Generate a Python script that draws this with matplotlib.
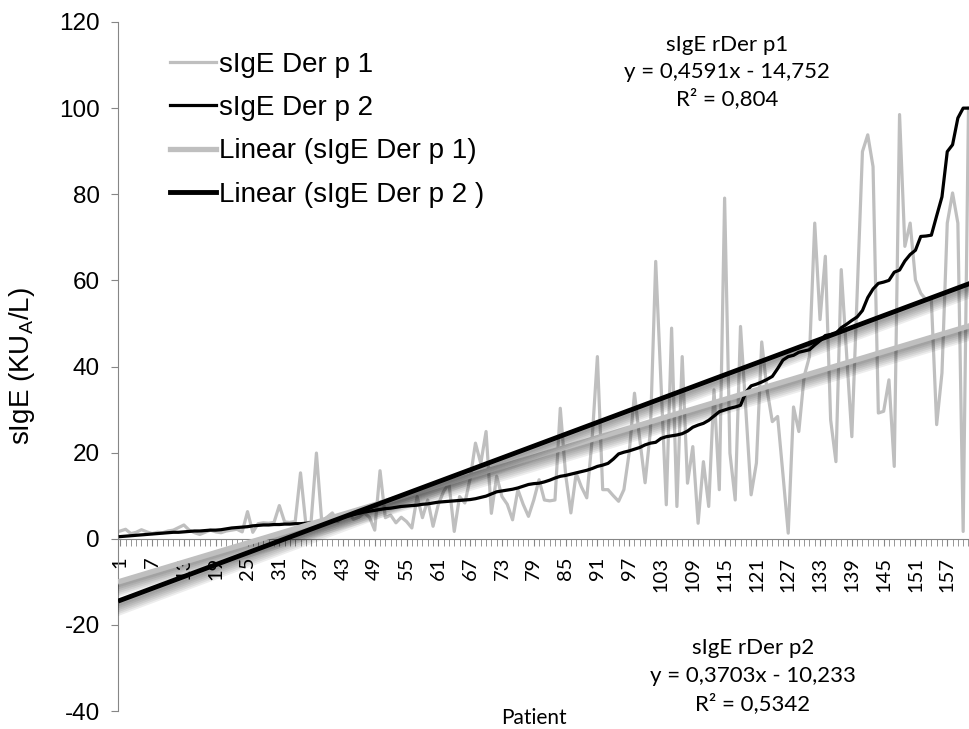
import matplotlib
matplotlib.use("Agg")
import matplotlib.pyplot as plt
import matplotlib.patheffects as pe
from matplotlib.lines import Line2D
import numpy as np

# patients 1..161
patients = np.arange(1, 162)

# sIgE Der p 1 (grey, unsorted)
der_p1 = [1.8, 2.2, 1.2, 1.5, 2.1, 1.6, 1.2, 1.5, 1.4, 1.8,
          2.0, 2.6, 3.2, 2.0, 1.4, 1.0, 1.5, 2.0, 1.6, 1.4,
          1.8, 2.0, 2.2, 1.6, 6.3, 1.5, 3.5, 3.7, 3.6, 3.8,
          7.7, 3.9, 3.8, 4.0, 15.3, 3.5, 4.0, 19.9, 4.0, 5.0,
          6.0, 4.0, 5.0, 6.0, 4.5, 5.0, 6.0, 5.0, 2.0, 15.8,
          4.9, 5.5, 3.7, 5.0, 4.0, 2.5, 9.8, 4.9, 9.0, 2.9,
          8.0, 11.0, 12.9, 1.7, 9.8, 8.3, 14.0, 22.2, 17.5, 24.9,
          5.9, 14.5, 9.8, 8.0, 4.4, 11.4, 8.0, 5.2, 9.0, 13.7,
          9.0, 8.8, 9.0, 30.3, 15.0, 6.0, 15.2, 12.0, 9.5, 23.0,
          42.3, 11.4, 11.4, 10.0, 8.7, 11.4, 20.0, 33.8, 23.0, 13.0,
          25.0, 64.4, 36.0, 7.9, 48.9, 7.5, 42.3, 12.9, 21.4, 3.6,
          17.9, 7.5, 34.6, 11.4, 79.1, 19.9, 9.0, 49.3, 30.0, 10.2,
          17.6, 45.7, 34.6, 27.2, 28.4, 15.0, 1.3, 30.6, 24.9, 37.7,
          42.3, 73.3, 50.9, 65.6, 27.6, 17.9, 62.5, 43.0, 23.7, 57.0,
          89.9, 93.8, 86.4, 29.2, 29.6, 36.9, 16.8, 98.5, 67.9, 73.3,
          60.1, 57.0, 55.5, 55.5, 26.5, 38.5, 73.3, 80.3, 73.3, 1.7,
          100.0]

# sIgE Der p 2 (black, sorted)
der_p2 = [0.5, 0.6, 0.7, 0.8, 0.9, 1.0, 1.1, 1.2, 1.3, 1.4,
          1.5, 1.5, 1.6, 1.7, 1.8, 1.8, 1.9, 2.0, 2.0, 2.1,
          2.3, 2.5, 2.6, 2.7, 2.8, 3.0, 3.1, 3.2, 3.2, 3.3,
          3.3, 3.4, 3.4, 3.5, 3.5, 3.6, 3.7, 3.8, 4.0, 4.3,
          4.5, 4.8, 5.0, 5.3, 5.6, 5.9, 6.2, 6.4, 6.6, 6.8,
          7.0, 7.1, 7.3, 7.5, 7.6, 7.7, 7.8, 8.0, 8.1, 8.3,
          8.5, 8.6, 8.7, 8.8, 8.9, 9.0, 9.1, 9.3, 9.6, 9.9,
          10.4, 10.9, 11.1, 11.3, 11.5, 11.8, 12.2, 12.6, 12.8, 12.9,
          13.2, 13.6, 14.1, 14.5, 14.7, 15.0, 15.3, 15.6, 15.9, 16.3,
          16.8, 17.1, 17.5, 18.5, 19.7, 20.1, 20.4, 20.8, 21.2, 21.8,
          22.2, 22.4, 23.3, 23.7, 23.9, 24.1, 24.4, 25.0, 25.9, 26.4,
          26.8, 27.5, 28.5, 29.5, 29.9, 30.3, 30.6, 31.0, 34.0, 35.5,
          35.9, 36.4, 37.0, 37.7, 39.5, 41.5, 42.3, 42.6, 43.3, 43.6,
          43.9, 45.0, 46.0, 47.2, 47.4, 47.7, 49.0, 49.8, 50.7, 51.5,
          53.0, 56.0, 58.0, 59.3, 59.6, 60.0, 61.9, 62.4, 64.5, 66.0,
          67.0, 70.2, 70.3, 70.5, 75.0, 79.4, 89.9, 91.5, 97.7, 100.0,
          100.0]

# trendline equations as printed on the chart (slope, intercept)
fit_grey = (0.3703, -10.233)
fit_black = (0.4591, -14.752)

tick_pos = list(range(1, 162, 6))

GREY = "#bfbfbf"
AXIS = "#868686"
ARIAL = "Liberation Sans"
CALIBRI = "Lato"


def shadow(lw):
    # soft drop shadow under the trendlines (Excel effect)
    fx = [pe.SimpleLineShadow(offset=(0, -k), shadow_color="black",
                              alpha=0.07, linewidth=lw + 0.7 * k)
          for k in (1.5, 2.5, 3.5, 4.5, 5.5, 6.5)]
    return fx + [pe.Normal()]


fig = plt.figure(figsize=(9.69, 7.29), dpi=100)
ax = fig.add_axes([118 / 969, 18 / 729, 851 / 969, 689 / 729])

ax.plot(patients, der_p1, color=GREY, lw=2.3, zorder=2)
ax.plot(patients, der_p2, color="black", lw=2.3, zorder=3)

ax.plot(patients, fit_grey[0] * patients + fit_grey[1], color=GREY, lw=3.8,
        zorder=4, path_effects=shadow(3.8))
ax.plot(patients, fit_black[0] * patients + fit_black[1], color="black", lw=3.5,
        zorder=5, path_effects=shadow(3.5))

ax.set_xlim(0.57, 161.1)
ax.set_ylim(-40, 120)

for s in ("top", "right"):
    ax.spines[s].set_visible(False)
ax.spines["left"].set_color(AXIS)
ax.spines["bottom"].set_color(AXIS)
ax.spines["bottom"].set_position(("data", 0))

ax.set_yticks(range(-40, 121, 20))
ax.set_yticklabels([str(v) for v in range(-40, 121, 20)], fontsize=17.5, family=ARIAL)
ax.tick_params(axis="y", length=5, color=AXIS, pad=8)

ax.set_xticks(tick_pos)
ax.set_xticklabels([str(v) for v in tick_pos], rotation=90, fontsize=14.5,
                   family=CALIBRI, va="top")
ax.set_xticks(patients, minor=True)
ax.tick_params(axis="x", which="both", length=5, color=AXIS, pad=8)

fig.text(22 / 969, 1 - 366 / 729, "sIgE (KU$_\\mathregular{A}$/L)", rotation=90,
         ha="center", va="center", fontsize=20, family=ARIAL)

fig.text(534 / 969, 1 - 718 / 729, "Patient", ha="center", va="center",
         fontsize=15, family=CALIBRI)

# trendline labels
for i, s in enumerate(["sIgE rDer p1", "y = 0,4591x - 14,752", "R² = 0,804"]):
    fig.text(727 / 969, 1 - (45 + 27 * i) / 729, s, ha="center", va="center",
             fontsize=16, family=CALIBRI)
for i, s in enumerate(["sIgE rDer p2", "y = 0,3703x - 10,233", "R² = 0,5342"]):
    fig.text(753 / 969, 1 - (648 + 28 * i) / 729, s, ha="center", va="center",
             fontsize=16, family=CALIBRI)

handles = [Line2D([], [], color=GREY, lw=2.3),
           Line2D([], [], color="black", lw=2.3),
           Line2D([], [], color=GREY, lw=3.8),
           Line2D([], [], color="black", lw=3.5)]
labels = ["sIgE Der p 1", "sIgE Der p 2", "Linear (sIgE Der p 1)",
          "Linear (sIgE Der p 2 )"]
fig.legend(handles, labels, loc="upper left", bbox_to_anchor=(170 / 969, 1 - 52 / 729),
           frameon=False, prop={"family": ARIAL, "size": 20}, handlelength=1.65,
           handletextpad=0.12, labelspacing=0.62, borderpad=0, borderaxespad=0)

fig.savefig("out.png", dpi=100)
